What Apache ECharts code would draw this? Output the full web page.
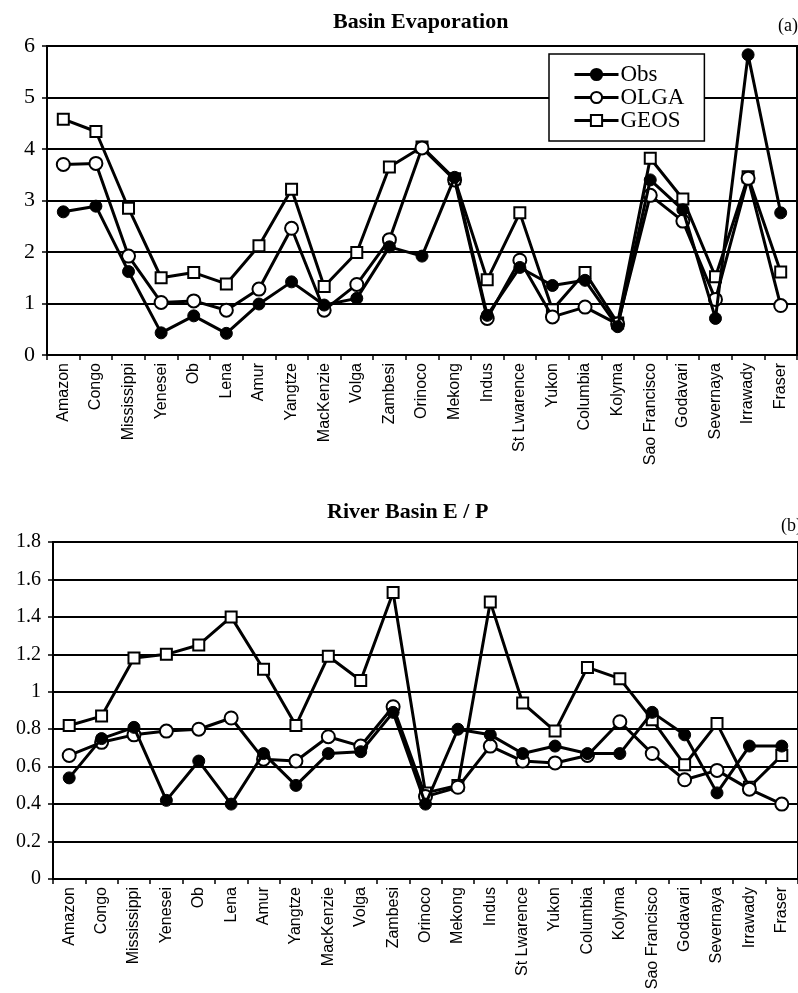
<!DOCTYPE html>
<html>
<head>
<meta charset="utf-8">
<script src="https://cdn.jsdelivr.net/npm/echarts@6/dist/echarts.min.js"></script>
<style>
html,body{margin:0;padding:0;background:#fff;}
#chart{width:798px;height:993px;}
</style>
</head>
<body>
<div id="chart"></div>
<script>
var categories = ['Amazon','Congo','Mississippi','Yenesei','Ob','Lena','Amur','Yangtze','MacKenzie','Volga','Zambesi','Orinoco','Mekong','Indus','St Lwarence','Yukon','Columbia','Kolyma','Sao Francisco','Godavari','Severnaya','Irrawady','Fraser'];

var evapObs  = [2.78, 2.89, 1.62, 0.43, 0.76, 0.42, 0.99, 1.42, 0.97, 1.10, 2.10, 1.92, 3.45, 0.77, 1.70, 1.35, 1.45, 0.55, 3.40, 2.82, 0.71, 5.83, 2.76];
var evapOLGA = [3.70, 3.72, 1.92, 1.02, 1.05, 0.87, 1.28, 2.46, 0.87, 1.37, 2.24, 4.02, 3.40, 0.71, 1.84, 0.74, 0.93, 0.60, 3.10, 2.60, 1.08, 3.43, 0.96];
var evapGEOS = [4.58, 4.34, 2.85, 1.50, 1.60, 1.38, 2.12, 3.22, 1.33, 1.99, 3.65, 4.04, 3.42, 1.46, 2.76, 0.88, 1.60, 0.62, 3.82, 3.03, 1.52, 3.46, 1.61];

var epObs  = [0.54, 0.75, 0.81, 0.42, 0.63, 0.40, 0.67, 0.50, 0.67, 0.68, 0.89, 0.40, 0.80, 0.77, 0.67, 0.71, 0.67, 0.67, 0.89, 0.77, 0.46, 0.71, 0.71];
var epOLGA = [0.66, 0.73, 0.77, 0.79, 0.80, 0.86, 0.64, 0.63, 0.76, 0.71, 0.92, 0.44, 0.49, 0.71, 0.63, 0.62, 0.66, 0.84, 0.67, 0.53, 0.58, 0.48, 0.40];
var epGEOS = [0.82, 0.87, 1.18, 1.20, 1.25, 1.40, 1.12, 0.82, 1.19, 1.06, 1.53, 0.46, 0.50, 1.48, 0.94, 0.79, 1.13, 1.07, 0.85, 0.61, 0.83, 0.49, 0.66];

var titleTop = 'Basin Evaporation';
var titleBottom = 'River Basin E / P';

var serif = "'Liberation Serif', 'DejaVu Serif', serif";
var sans = "'Liberation Sans', 'DejaVu Sans', sans-serif";

function xAxisCfg(gridIndex) {
  return {
    type: 'category', gridIndex: gridIndex, data: categories, boundaryGap: true,
    axisLine: {show: true, lineStyle: {color: '#000', width: 2}},
    axisTick: {show: true, length: 5, lineStyle: {color: '#000', width: 1.5}},
    axisLabel: {rotate: 90, interval: 0, margin: 8, color: '#000', fontFamily: sans, fontSize: 16},
    splitLine: {show: false}
  };
}
function yAxisCfg(gridIndex, max, interval, fontSize) {
  return {
    type: 'value', gridIndex: gridIndex, min: 0, max: max, interval: interval,
    axisLine: {show: true, lineStyle: {color: '#000', width: 2}},
    axisTick: {show: true, length: 5, lineStyle: {color: '#000', width: 1.5}},
    axisLabel: {color: '#000', fontFamily: serif, fontSize: fontSize, margin: 12},
    splitLine: {show: true, lineStyle: {color: '#000', width: 2}}
  };
}
function makeSeries(name, data, idx, kind) {
  var s = {
    name: name, type: 'line', data: data, xAxisIndex: idx, yAxisIndex: idx,
    lineStyle: {color: '#000', width: 3},
    animation: false, z: 2
  };
  if (kind === 'obs') {
    s.symbol = 'circle'; s.symbolSize = 12;
    s.itemStyle = {color: '#000', borderColor: '#000', borderWidth: 1};
    s.z = 4;
  } else if (kind === 'olga') {
    s.symbol = 'circle'; s.symbolSize = 13;
    s.itemStyle = {color: '#fff', borderColor: '#000', borderWidth: 2};
    s.z = 3;
  } else {
    s.symbol = 'rect'; s.symbolSize = 11;
    s.itemStyle = {color: '#fff', borderColor: '#000', borderWidth: 2};
  }
  return s;
}

var chart = echarts.init(document.getElementById('chart'), null, {renderer: 'canvas'});
chart.setOption({
  backgroundColor: '#fff',
  animation: false,
  title: [
    {text: titleTop, left: 328, top: 6, textStyle: {fontFamily: serif, fontWeight: 'bold', fontSize: 22, color: '#000'}},
    {text: '(a)', left: 773, top: 12, textStyle: {fontFamily: serif, fontWeight: 'normal', fontSize: 18, color: '#000'}},
    {text: titleBottom, left: 322, top: 496, textStyle: {fontFamily: serif, fontWeight: 'bold', fontSize: 22, color: '#000'}},
    {text: '(b)', left: 776, top: 512, textStyle: {fontFamily: serif, fontWeight: 'normal', fontSize: 18, color: '#000'}}
  ],
  legend: {
    data: ['Obs', 'OLGA', 'GEOS'],
    orient: 'vertical', left: 549, top: 54,
    padding: [9, 20, 9, 24],
    itemGap: 0, itemWidth: 44, itemHeight: 14,
    backgroundColor: '#fff', borderColor: '#000', borderWidth: 1.5,
    lineStyle: {width: 3, color: '#000'},
    textStyle: {fontFamily: serif, fontSize: 23, color: '#000', lineHeight: 21, padding: [0, 0, 0, -3]}
  },
  grid: [
    {left: 47, top: 46, width: 750, height: 309, show: true, borderColor: '#000', borderWidth: 2, backgroundColor: 'transparent'},
    {left: 53, top: 542, width: 751, height: 337, show: true, borderColor: '#000', borderWidth: 2, backgroundColor: 'transparent'}
  ],
  xAxis: [xAxisCfg(0), xAxisCfg(1)],
  yAxis: [yAxisCfg(0, 6, 1, 22), yAxisCfg(1, 1.8, 0.2, 20)],
  series: [
    makeSeries('GEOS', evapGEOS, 0, 'geos'),
    makeSeries('OLGA', evapOLGA, 0, 'olga'),
    makeSeries('Obs', evapObs, 0, 'obs'),
    makeSeries('GEOS', epGEOS, 1, 'geos'),
    makeSeries('OLGA', epOLGA, 1, 'olga'),
    makeSeries('Obs', epObs, 1, 'obs')
  ]
});
</script>
</body>
</html>
